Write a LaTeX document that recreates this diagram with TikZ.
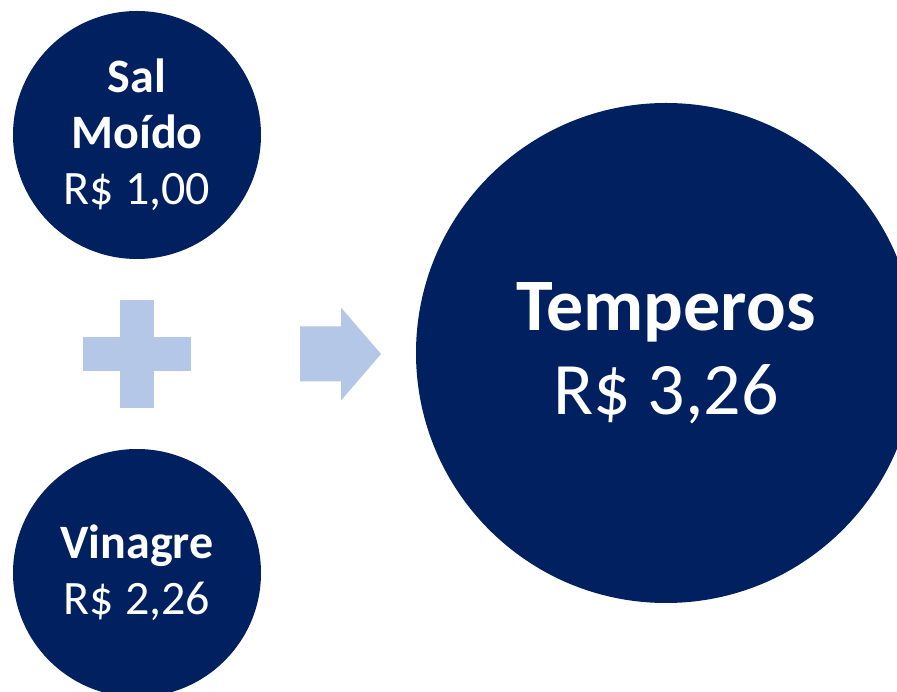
\documentclass[tikz,border=0pt]{standalone}
\usepackage{fontspec}
\setmainfont{Carlito}
\usetikzlibrary{positioning}
\definecolor{azulescuro}{HTML}{002060}
\definecolor{azulclaro}{HTML}{B4C7E7}
\tikzstyle{bola} = [circle, fill=azulescuro, text=white, align=center, inner sep=0pt, minimum size=248pt, font=\fontsize{48}{56}\selectfont]
\tikzstyle{bolagrande} = [bola, minimum size=500pt, font=\fontsize{74}{84}\selectfont]
\tikzstyle{forma} = [fill=azulclaro, draw=none]

\begin{document}
\begin{tikzpicture}[x=1pt, y=1pt, node distance=219pt]
		\useasboundingbox (0,0) rectangle (897,691);
		\node (sal) [bola] at (137,556) {\textbf{Sal}\\\textbf{Moído}\\R\$ 1,00};
		\coordinate [below of=sal] (mais);
		\node (vinagre) [bola, below of=mais] {\textbf{Vinagre}\\R\$ 2,26};
		\node (temperos) [bolagrande] at (666,338) {\textbf{Temperos}\\R\$ 3,26};
		\coordinate [right=163pt of mais] (seta);
		% sinal de mais
		\fill [forma] (mais) ++(-17,54) rectangle ++(34,-108);
		\fill [forma] (mais) ++(-54,17) rectangle ++(108,-34);
		% seta
		\fill [forma] (seta) ++(0,27.5) -- ++(41,0) -- ++(0,19) -- ++(40,-46.5) -- ++(-40,-46.5) -- ++(0,19) -- ++(-41,0) -- cycle;
	\end{tikzpicture}
\end{document}
